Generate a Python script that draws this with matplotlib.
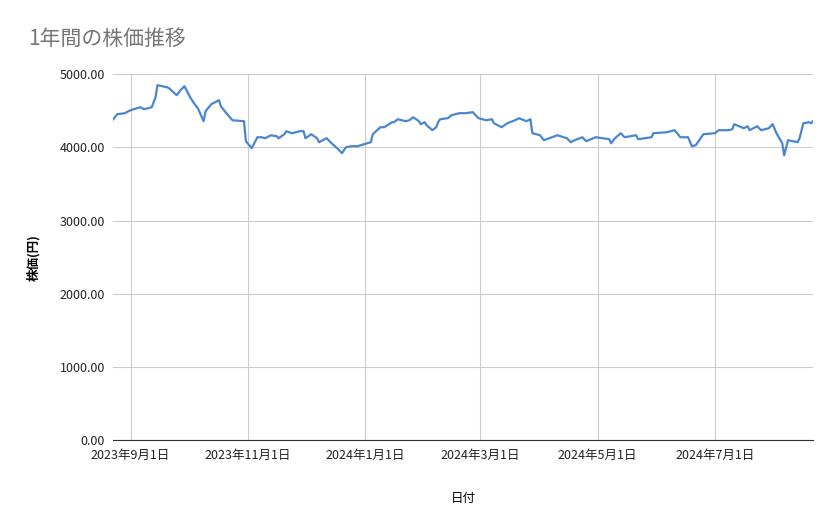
import matplotlib.pyplot as plt
import matplotlib.dates as mdates
import pandas as pd

plt.rcParams['font.family'] = ['Noto Sans CJK JP', 'DejaVu Sans']

dates = ['2023-08-23', '2023-08-25', '2023-08-29', '2023-09-01', '2023-09-06', '2023-09-08',
         '2023-09-12', '2023-09-14', '2023-09-15', '2023-09-20', '2023-09-21', '2023-09-25',
         '2023-09-27', '2023-09-29', '2023-10-02', '2023-10-04', '2023-10-06', '2023-10-09',
         '2023-10-10', '2023-10-13', '2023-10-17', '2023-10-18', '2023-10-20', '2023-10-24',
         '2023-10-30', '2023-10-31', '2023-11-03', '2023-11-06', '2023-11-08', '2023-11-10',
         '2023-11-13', '2023-11-16', '2023-11-17', '2023-11-20', '2023-11-21', '2023-11-24',
         '2023-11-28', '2023-11-30', '2023-12-01', '2023-12-04', '2023-12-07', '2023-12-08',
         '2023-12-12', '2023-12-14', '2023-12-18', '2023-12-20', '2023-12-22', '2023-12-25',
         '2023-12-28', '2024-01-04', '2024-01-05', '2024-01-09', '2024-01-11', '2024-01-15',
         '2024-01-16', '2024-01-18', '2024-01-22', '2024-01-24', '2024-01-26', '2024-01-29',
         '2024-01-30', '2024-02-01', '2024-02-02', '2024-02-05', '2024-02-07', '2024-02-08',
         '2024-02-09', '2024-02-13', '2024-02-15', '2024-02-19', '2024-02-22', '2024-02-26',
         '2024-02-29', '2024-03-04', '2024-03-07', '2024-03-08', '2024-03-12', '2024-03-15',
         '2024-03-19', '2024-03-21', '2024-03-25', '2024-03-27', '2024-03-28', '2024-04-01',
         '2024-04-03', '2024-04-10', '2024-04-15', '2024-04-17', '2024-04-19', '2024-04-23',
         '2024-04-25', '2024-04-30', '2024-05-07', '2024-05-08', '2024-05-10', '2024-05-13',
         '2024-05-15', '2024-05-21', '2024-05-22', '2024-05-29', '2024-05-30', '2024-06-06',
         '2024-06-10', '2024-06-13', '2024-06-17', '2024-06-19', '2024-06-21', '2024-06-25',
         '2024-07-01', '2024-07-03', '2024-07-08', '2024-07-10', '2024-07-11', '2024-07-16',
         '2024-07-18', '2024-07-19', '2024-07-23', '2024-07-25', '2024-07-29', '2024-07-31',
         '2024-08-02', '2024-08-05', '2024-08-06', '2024-08-08', '2024-08-13', '2024-08-14',
         '2024-08-16', '2024-08-19', '2024-08-20', '2024-08-21']
prices = [4385, 4453, 4467, 4508, 4549, 4522, 4549, 4686, 4850, 4822, 4808, 4713,
          4781, 4836, 4686, 4603, 4535, 4358, 4494, 4590, 4645, 4562, 4494, 4371,
          4358, 4085, 3989, 4139, 4139, 4125, 4166, 4153, 4125, 4180, 4221, 4193,
          4221, 4221, 4125, 4180, 4125, 4071, 4125, 4071, 3975, 3921, 4002, 4016,
          4016, 4071, 4180, 4276, 4276, 4344, 4344, 4385, 4358, 4371, 4412, 4358,
          4317, 4344, 4303, 4235, 4276, 4344, 4385, 4399, 4440, 4467, 4467, 4481,
          4399, 4371, 4385, 4330, 4276, 4330, 4371, 4399, 4358, 4385, 4194, 4166,
          4098, 4166, 4125, 4071, 4098, 4139, 4085, 4139, 4112, 4057, 4125, 4194,
          4139, 4166, 4112, 4139, 4194, 4207, 4235, 4139, 4139, 4016, 4030, 4180,
          4194, 4235, 4235, 4248, 4317, 4262, 4289, 4235, 4289, 4235, 4262, 4317,
          4194, 4057, 3893, 4098, 4071, 4125, 4330, 4344, 4330, 4358]
tick_dates = ['2023-09-01', '2023-11-01', '2024-01-01', '2024-03-01', '2024-05-01', '2024-07-01']
y_ticks = [0, 1000, 2000, 3000, 4000, 5000]

x = pd.to_datetime(dates)
ticks = pd.to_datetime(tick_dates)

fig = plt.figure(figsize=(8.39, 5.19), dpi=100)
ax = fig.add_axes([0.135, 0.152, 0.834, 0.705])
ax.plot(x, prices, color='#4a86d0', linewidth=1.6)

ax.set_xlim(pd.Timestamp('2023-08-23'), pd.Timestamp('2024-08-21'))
ax.set_ylim(0, 5000)
ax.set_xticks(ticks)
ax.set_xticklabels([f'{d.year}年{d.month}月{d.day}日' for d in ticks])
ax.set_yticks(y_ticks)
ax.set_yticklabels([f'{v:.2f}' for v in y_ticks])
ax.grid(True, color='#cccccc', linewidth=0.8)
ax.set_axisbelow(True)
for s in ['top', 'right', 'left']:
    ax.spines[s].set_visible(False)
ax.spines['bottom'].set_color('#333333')
ax.tick_params(length=0, labelsize=9, colors='#222222', pad=6)

ax.set_xlabel('日付', fontsize=9, labelpad=22)
ax.set_ylabel('株価(円)', fontsize=9, fontweight='bold', labelpad=14)
fig.text(0.033, 0.925, '1年間の株価推移', fontsize=15, color='#757575', va='center')

fig.savefig('out.png')
